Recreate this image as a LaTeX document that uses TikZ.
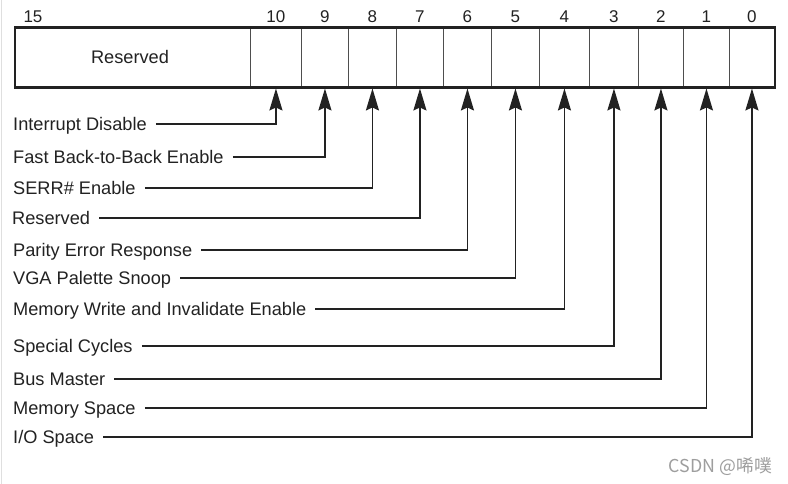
\documentclass[tikz,border=0pt]{standalone}
\usepackage{fontspec}
\setmainfont{Liberation Sans}
\newfontfamily\cjk{Noto Sans CJK SC}
\usetikzlibrary{arrows.meta}
\definecolor{ink}{HTML}{222222}
\begin{document}
\begin{tikzpicture}[x=1pt,y=-1pt,
  cell/.style={draw=ink!80, line width=0.9pt, minimum height=59pt, inner sep=0pt, anchor=west},
  bitnum/.style={font=\fontsize{17}{19}\selectfont, text=ink, inner sep=0pt},
  lbl/.style={font=\fontsize{18.2}{21}\selectfont, text=ink, anchor=west, inner xsep=0pt, inner ysep=0pt, text height=13.5pt, text depth=0pt},
  conn/.style={draw=ink, line width=1.8pt, shorten <=9pt, -{Stealth[length=22pt,width=13pt,inset=3pt]}},
  ]
\useasboundingbox (0,0) rectangle (788,484);
\fill[white] (0,0) rectangle (788,484);
\draw[gray!25, line width=1.2pt] (1.5,0) -- (1.5,484);
% cells
\node[cell, minimum width=235pt] (c15) at (15,57.5) {};
\node[cell, minimum width=51pt] (c10) at (250,57.5) {};
\node[cell, minimum width=47pt] (c9) at (301,57.5) {};
\node[cell, minimum width=48pt] (c8) at (348,57.5) {};
\node[cell, minimum width=47pt] (c7) at (396,57.5) {};
\node[cell, minimum width=48pt] (c6) at (443,57.5) {};
\node[cell, minimum width=48pt] (c5) at (491,57.5) {};
\node[cell, minimum width=50pt] (c4) at (539,57.5) {};
\node[cell, minimum width=49pt] (c3) at (589,57.5) {};
\node[cell, minimum width=45pt] (c2) at (638,57.5) {};
\node[cell, minimum width=46pt] (c1) at (683,57.5) {};
\node[cell, minimum width=45pt] (c0) at (729,57.5) {};
\draw[ink, line width=2.2pt] (c15.north west) rectangle (c0.south east);
\node[font=\fontsize{18.2}{21}\selectfont, text=ink] (res) at (130,56.5) {Reserved};
% bit numbers
\node[bitnum] (n15) at (33,17) {15};
\foreach \b in {10,9,...,0} { \node[bitnum] (n\b) at (c\b.center |- 0,17) {\b}; }
% labels
\node[lbl] (l10) at (13,124) {Interrupt Disable};
\node[lbl] (l9) at (13,157) {Fast Back-to-Back Enable};
\node[lbl] (l8) at (13,188) {SERR\# Enable};
\node[lbl] (l7) at (12,218) {Reserved};
\node[lbl] (l6) at (13,250) {Parity Error Response};
\node[lbl] (l5) at (13,278) {VGA Palette Snoop};
\node[lbl] (l4) at (13,309) {Memory Write and Invalidate Enable};
\node[lbl] (l3) at (13,346) {Special Cycles};
\node[lbl] (l2) at (13,379) {Bus Master};
\node[lbl] (l1) at (13,408) {Memory Space};
\node[lbl] (l0) at (13,437) {I/O Space};
\foreach \b in {10,9,...,0} { \draw[conn] (l\b.east) -| ([yshift=-1pt]c\b.south); }
% watermark
\node[font=\cjk\fontsize{17.8}{19}\selectfont, text=black!38, anchor=east, inner sep=0pt] (wm) at (772,467) {CSDN @唏噗};
\end{tikzpicture}
\end{document}
